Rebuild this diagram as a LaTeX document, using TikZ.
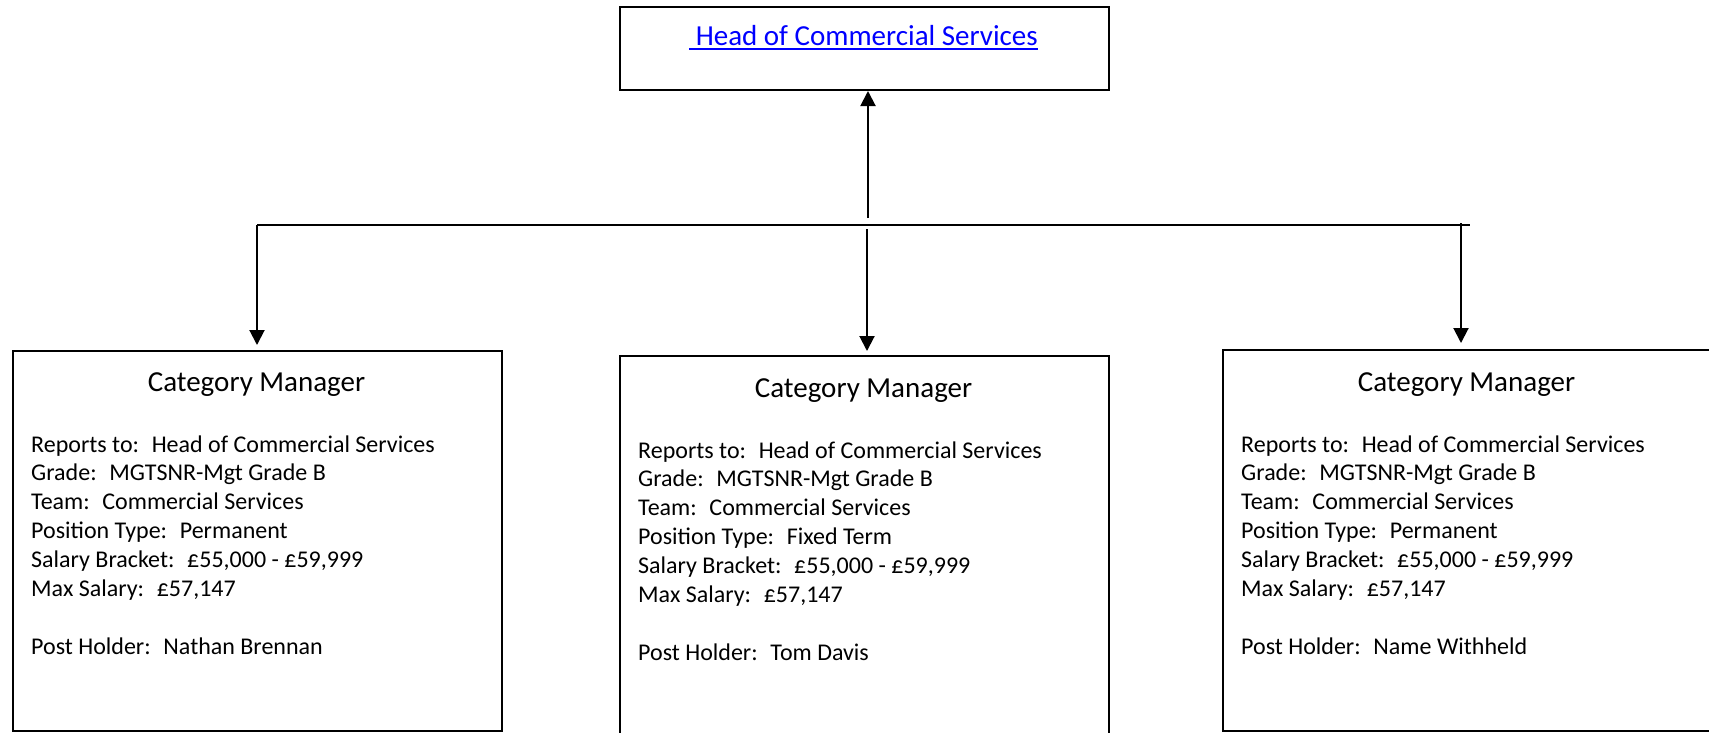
\documentclass[tikz,border=0pt]{standalone}
\usepackage{fontspec}
\setmainfont{Carlito}
\usetikzlibrary{arrows.meta}
\definecolor{linkblue}{RGB}{0,0,255}
\begin{document}
\begin{tikzpicture}[x=1pt,y=-1pt,
  box/.style={draw, line width=2pt, rectangle, inner sep=0pt, anchor=north west},
  title/.style={font=\fontsize{29}{35}\selectfont, anchor=base, inner sep=0pt},
  body/.style={font=\fontsize{24}{28.9}\selectfont, anchor=base west, inner sep=0pt},
  conn/.style={line width=2pt},
  arr/.style={line width=2pt, -{Triangle[width=15pt,length=15pt]}}]
\useasboundingbox (0,0) rectangle (1709,732);
\clip (0,0) rectangle (1709,732);
% head box
\node[box, minimum width=489pt, minimum height=83pt] (head) at (619,6) {};
\node[anchor=base, inner sep=0pt, font=\fontsize{29}{35}\selectfont, text=linkblue] (headtxt) at (863.5,45) {\ Head of Commercial Services};
\draw[linkblue, line width=2pt] ([yshift=-4pt]headtxt.base west) -- ([yshift=-4pt]headtxt.base east);
% position boxes
\node[box, minimum width=489pt, minimum height=380pt] (boxL) at (12,350) {};
\node[box, minimum width=489pt, minimum height=420pt] (boxM) at (619,355) {};
\node[box, minimum width=489pt, minimum height=381pt] (boxR) at (1222,349) {};
\node[title] (titleL) at (256.5,391) {Category Manager};
\node[title] (titleM) at (863.5,397) {Category Manager};
\node[title] (titleR) at (1466.5,391) {Category Manager};
\foreach \n/\bx/\by/\pos/\who in {L/31/452/Permanent/Nathan Brennan, M/638/458/Fixed Term/Tom Davis, R/1241/452/Permanent/Name Withheld}{
  \node[body] (\n-rep) at (\bx,\by) {Reports to:~ Head of Commercial Services};
  \node[body] (\n-grd) at (\bx,\by+28.9) {Grade:~ MGTSNR-Mgt Grade B};
  \node[body] (\n-team) at (\bx,\by+57.8) {Team:~ Commercial Services};
  \node[body] (\n-pos) at (\bx,\by+86.7) {Position Type:~ \pos};
  \node[body] (\n-sal) at (\bx,\by+115.6) {Salary Bracket:~ £55,000 - £59,999};
  \node[body] (\n-max) at (\bx,\by+144.5) {Max Salary:~ £57,147};
  \node[body] (\n-post) at (\bx,\by+202.3) {Post Holder:~ \who};
}
% connectors
\coordinate (hubtop) at (868,218);
\coordinate (busL) at (257,225);
\coordinate (busR) at (1470,225);
\coordinate (midtop) at (867,229);
\coordinate (rtop) at (1461,223);
\draw[arr] (hubtop) -- (hubtop |- head.south);
\draw[conn] (busL) -- (busR);
\draw[arr, shorten >=5pt] (busL) -- (busL |- boxL.north);
\draw[arr, shorten >=4pt] (midtop) -- (midtop |- boxM.north);
\draw[arr, shorten >=6pt] (rtop) -- (rtop |- boxR.north);
\end{tikzpicture}
\end{document}
